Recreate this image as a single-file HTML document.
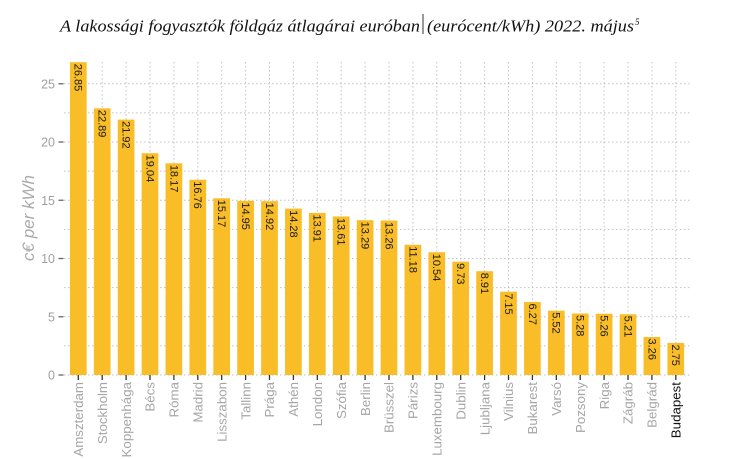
<!DOCTYPE html>
<html><head><meta charset="utf-8">
<style>
html,body{margin:0;padding:0;background:#fff;}
svg{display:block;}
</style></head>
<body>
<svg width="756" height="459" viewBox="0 0 756 459" xmlns="http://www.w3.org/2000/svg">
<rect width="756" height="459" fill="#fff"/>
<!-- title -->
<text x="60" y="31.5" font-family="Liberation Serif, serif" font-style="italic" font-size="16.5" fill="#111" textLength="360" lengthAdjust="spacingAndGlyphs">A lakossági fogyasztók földgáz átlagárai euróban</text>
<line x1="423" y1="14" x2="423" y2="34" stroke="#333" stroke-width="1"/>
<text x="427" y="31.5" font-family="Liberation Serif, serif" font-style="italic" font-size="16.5" fill="#111" textLength="207" lengthAdjust="spacingAndGlyphs">(eurócent/kWh) 2022. május</text>
<text x="635" y="25" font-family="Liberation Serif, serif" font-style="italic" font-size="9" fill="#111">5</text>

<!-- gridlines -->
<g id="grid" stroke="#c2c2c2" stroke-width="1" stroke-dasharray="1.5,2.5" fill="none"></g>
<g id="bars"></g>
<g id="axes"></g>

<text transform="translate(34,218) rotate(-90)" text-anchor="middle" font-family="Liberation Sans, sans-serif" font-style="italic" font-size="17" fill="#ababab">c€ per kWh</text>

<script>
(function(){
var ns="http://www.w3.org/2000/svg";
function el(tag,attrs,parent,txt){var e=document.createElementNS(ns,tag);for(var k in attrs)e.setAttribute(k,attrs[k]);if(txt!==undefined)e.textContent=txt;parent.appendChild(e);return e;}
var names=["Amszterdam","Stockholm","Koppenhága","Bécs","Róma","Madrid","Lisszabon","Tallinn","Prága","Athén","London","Szófia","Berlin","Brüsszel","Párizs","Luxembourg","Dublin","Ljubljana","Vilnius","Bukarest","Varsó","Pozsony","Riga","Zágráb","Belgrád","Budapest"];
var vals=[26.85,22.89,21.92,19.04,18.17,16.76,15.17,14.95,14.92,14.28,13.91,13.61,13.29,13.26,11.18,10.54,9.73,8.91,7.15,6.27,5.52,5.28,5.26,5.21,3.26,2.75];
var labs=["26.85","22.89","21.92","19.04","18.17","16.76","15.17","14.95","14.92","14.28","13.91","13.61","13.29","13.26","11.18","10.54","9.73","8.91","7.15","6.27","5.52","5.28","5.26","5.21","3.26","2.75"];
function Y(v){return 375-v*11.65;}
function X(i){return 78.3+23.9*i;}
var grid=document.getElementById("grid"),bars=document.getElementById("bars"),axes=document.getElementById("axes");
for(var v=0;v<=25.01;v+=2.5){var y=Y(v);el("line",{x1:64,y1:y,x2:690,y2:y},grid);}
for(var i=0;i<26;i++){var x=X(i);el("line",{x1:x,y1:62,x2:x,y2:375},grid);}
for(var i=0;i<26;i++){
 var x=X(i),t=Y(vals[i]);
 el("rect",{x:x-8.35,y:t,width:16.7,height:375-t,fill:"#F9BD27"},bars);
 el("text",{transform:"translate("+(x-3.6)+","+(t+1.5)+") rotate(90)","font-family":"Liberation Sans, sans-serif","font-size":"11",fill:"#1a1a1a"},bars,labs[i]);
 el("line",{x1:x,y1:375,x2:x,y2:380,stroke:"#333","stroke-width":1.3},axes);
 var isB=(i==25);
 el("text",{transform:"translate("+(x+4.7)+",382) rotate(-90)","text-anchor":"end","font-family":"Liberation Sans, sans-serif","font-size":"13.3",fill:isB?"#111":"#a6a6a6"},axes,names[i]);
}
for(var v=0;v<=25;v+=5){var y=Y(v);
 el("line",{x1:58.5,y1:y,x2:63.5,y2:y,stroke:"#666","stroke-width":1.3},axes);
 el("text",{x:55,y:y+4.5,"text-anchor":"end","font-family":"Liberation Sans, sans-serif","font-size":"12.5",fill:"#a0a0a0"},axes,String(v));
}
})();
</script>
</svg>
</body></html>
